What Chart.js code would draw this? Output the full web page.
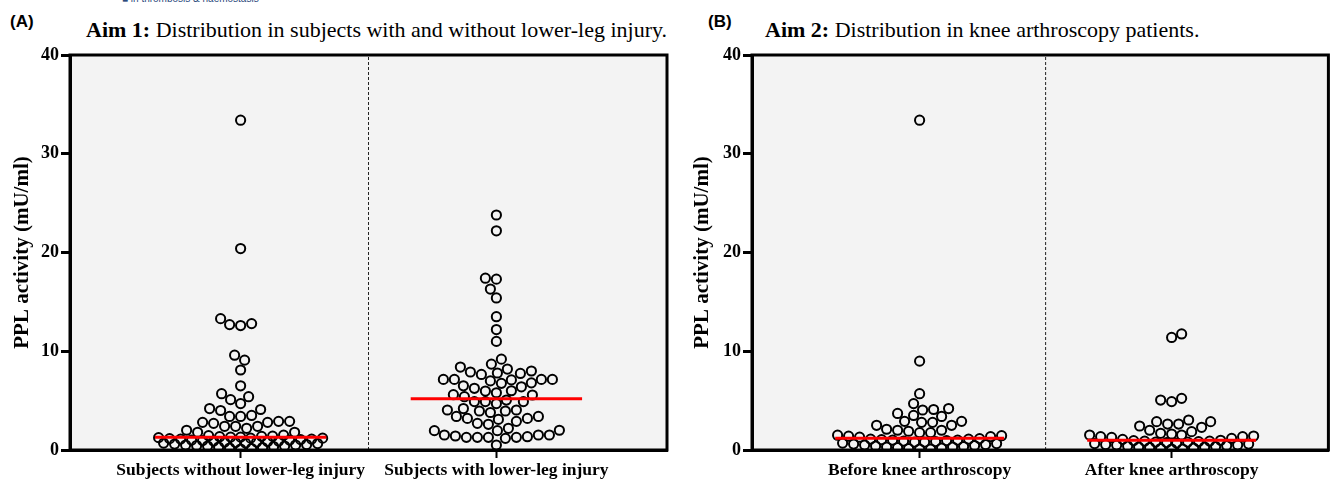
<!DOCTYPE html>
<html>
<head>
<meta charset="utf-8">
<script src="https://cdn.jsdelivr.net/npm/chart.js@4.4.1/dist/chart.umd.min.js"></script>
<style>
  body { margin: 0; background: #fff; width: 1335px; height: 483px; overflow: hidden; position: relative; }
  .box { position: absolute; top: 0; height: 483px; }
  .tag { position: absolute; font: bold 17px "Liberation Sans", Arial, sans-serif; line-height: 17px; color: #000; }
  .ttl { position: absolute; font: 22px "Liberation Serif", "Times New Roman", serif; line-height: 22px; color: #000; white-space: nowrap; }
  .ttl b { font-weight: bold; }
  .hdr { position: absolute; left: 122px; top: -7px; font: 10px "Liberation Sans", Arial, sans-serif; color: #2b4a7c; }
</style>
</head>
<body>
<div class="hdr">&#9632; in thrombosis &amp; haemostasis</div>
<div class="tag" style="left:10px; top:13px">(A)</div>
<div class="ttl" style="left:86px; top:19px"><b>Aim 1:</b> Distribution in subjects with and without lower-leg injury.</div>
<div class="tag" style="left:708px; top:13px">(B)</div>
<div class="ttl" style="left:765px; top:19px"><b>Aim 2:</b> Distribution in knee arthroscopy patients.</div>
<div class="box" style="left:0; width:680px"><canvas id="chartA"></canvas></div>
<div class="box" style="left:680px; width:655px"><canvas id="chartB"></canvas></div>
<script>
// categories
const categoriesA = ['Subjects without lower-leg injury', 'Subjects with lower-leg injury'];
const categoriesB = ['Before knee arthroscopy', 'After knee arthroscopy'];
const yTicks = [0, 10, 20, 30, 40];

// PPL activity (mU/ml)
const withoutInjury = [33.4, 20.4, 13.3, 12.8, 12.7, 12.6, 9.6, 9.1, 8.1, 6.5, 5.7, 5.4, 5.1, 4.7,
  4.2, 4.1, 4.0, 3.5, 3.4, 3.4, 2.9, 2.9, 2.8, 2.8, 2.7, 2.4, 2.4, 2.4, 2.2, 2.0, 1.8, 1.8, 1.5,
  1.45, 1.4, 1.38, 1.35, 1.3, 1.3, 1.25, 1.2, 1.2, 1.15, 1.1, 1.1, 1.05, 1.0, 1.0, 0.95, 0.9, 0.9,
  0.85, 0.8, 0.8, 0.75, 0.7, 0.7, 0.65, 0.6, 0.55, 0.5, 0.5, 0.45, 0.4, 0.4, 0.35, 0.3, 0.25, 0.2, 0.15, 0.1];
const withInjury = [23.8, 22.2, 17.4, 17.3, 16.3, 15.4, 13.5, 12.2, 11.0, 9.2, 8.7, 8.4, 8.2, 8.0,
  7.9, 7.8, 7.75, 7.65, 7.15, 7.15, 7.15, 7.15, 7.1, 7.0, 6.8, 6.75, 6.5, 6.4, 6.25, 6.0, 5.97, 5.8,
  5.6, 5.57, 5.4, 5.06, 4.9, 4.9, 4.9, 4.7, 4.2, 4.05, 4.05, 3.95, 3.95, 3.8, 3.4, 3.4, 3.2, 3.2, 3.1,
  2.9, 2.7, 2.6, 2.2, 2.0, 1.96, 1.96, 1.52, 1.52, 1.52, 1.42, 1.35, 1.28, 1.28, 1.28, 1.28, 1.18, 0.5];
const beforeArthroscopy = [33.4, 9.0, 5.7, 4.7, 4.2, 4.1, 4.05, 3.7, 3.5, 3.4, 2.9, 2.9, 2.8, 2.8,
  2.5, 2.5, 2.1, 2.0, 2.0, 1.9, 1.75, 1.75, 1.5, 1.45, 1.4, 1.35, 1.3,
  1.15, 1.1, 1.1, 1.05, 1.0, 1.0, 0.95, 0.9, 0.85, 0.8, 0.8, 0.7, 0.65, 0.6, 0.55, 0.5, 0.45, 0.4,
  0.35, 0.3, 0.3, 0.25, 0.2, 0.15, 0.1, 0.1];
const afterArthroscopy = [11.75, 11.4, 5.23, 5.06, 4.9, 3.04, 2.87, 2.87, 2.63, 2.63, 2.43, 2.3, 2.0,
  1.86, 1.69, 1.62, 1.52, 1.52, 1.42, 1.35, 1.35, 1.28, 1.18, 1.08,
  0.98, 0.95, 0.9, 0.9, 0.85, 0.8, 0.8, 0.75, 0.7, 0.65, 0.6, 0.55, 0.5, 0.5, 0.45, 0.4, 0.35, 0.3,
  0.3, 0.25, 0.2, 0.15, 0.1, 0.1];

// medians (red lines)
const mediansA = [1.3, 5.2];
const mediansB = [1.2, 1.0];

const serif = '"Liberation Serif", "Times New Roman", serif';

// grey plot area + black frame
const framePlugin = {
  id: 'frame',
  beforeDraw(chart) {
    const a = chart.chartArea, ctx = chart.ctx;
    ctx.save();
    ctx.fillStyle = '#f3f3f3';
    ctx.fillRect(a.left, a.top, a.width, a.height);
    ctx.restore();
  },
  afterDraw(chart) {
    const a = chart.chartArea, ctx = chart.ctx;
    ctx.save();
    ctx.strokeStyle = '#000';
    ctx.lineWidth = 3;
    ctx.strokeRect(a.left, a.top, a.width, a.height);
    ctx.restore();
  }
};

// spread points sideways so they don't pile up (like a scatter dot plot)
function swarm(chart, values, center) {
  const xs = chart.scales.x, ys = chart.scales.y;
  const unit = xs.getPixelForValue(1) - xs.getPixelForValue(0);
  const d = 10.5, maxHalf = 82;
  const placed = [];
  const out = new Array(values.length);
  const idx = values.map((v, i) => i).sort((a, b) => values[a] - values[b]);
  idx.forEach((i, n) => {
    const py = ys.getPixelForValue(values[i]);
    const near = placed.filter(p => Math.abs(p.y - py) < d);
    let best = 0, bestGap = -1, done = false;
    for (let k = 0; k <= maxHalf && !done; k++) {
      const cands = k === 0 ? [0] : (n % 2 ? [k, -k] : [-k, k]);
      for (const dx of cands) {
        let gap = Infinity;
        near.forEach(p => { gap = Math.min(gap, Math.hypot(p.x - dx, p.y - py)); });
        if (gap >= d) { best = dx; done = true; break; }
        if (gap > bestGap) { bestGap = gap; best = dx; }
      }
    }
    placed.push({ x: best, y: py });
    out[i] = { x: center + best / unit, y: values[i] };
  });
  return out;
}

function makeChart(id, cats, groups, medians, xRange, yWidth, padRight) {
  const pointSets = groups.map((vals, i) => ({
    type: 'scatter',
    data: vals.map(v => ({ x: i, y: v })),
    pointStyle: 'circle',
    pointRadius: 4.6,
    pointBorderWidth: 2,
    pointBorderColor: '#000',
    pointBackgroundColor: 'rgba(0,0,0,0)',
    order: 2
  }));
  const medianSets = medians.map((m, i) => ({
    type: 'line',
    data: [{ x: i - 0.335, y: m }, { x: i + 0.335, y: m }],
    borderColor: '#ff0000',
    borderWidth: 3,
    pointRadius: 0,
    order: 0
  }));
  const divider = {
    type: 'line',
    data: [{ x: 0.5, y: 0 }, { x: 0.5, y: 40 }],
    borderColor: '#222',
    borderWidth: 1,
    borderDash: [3, 2],
    pointRadius: 0,
    order: 3
  };
  const chart = new Chart(document.getElementById(id), {
    type: 'scatter',
    data: { datasets: [...pointSets, ...medianSets, divider] },
    options: {
      responsive: true,
      maintainAspectRatio: false,
      animation: false,
      layout: { padding: { top: 55, right: padRight, left: 0, bottom: 0 } },
      plugins: { legend: { display: false }, tooltip: { enabled: false } },
      scales: {
        x: {
          type: 'linear',
          min: xRange[0],
          max: xRange[1],
          afterBuildTicks: s => { s.ticks = [{ value: 0 }, { value: 1 }]; },
          afterFit: s => { s.height = 33; },
          ticks: {
            callback: v => cats[v],
            font: { family: serif, weight: 'bold', size: 17.5 },
            color: '#000',
            padding: 2,
            maxRotation: 0,
            autoSkip: false
          },
          grid: { drawOnChartArea: false, drawTicks: true, tickLength: 8, tickWidth: 2, tickColor: '#000' },
          border: { color: '#000', width: 3 }
        },
        y: {
          min: 0,
          max: 40,
          afterBuildTicks: s => { s.ticks = yTicks.map(v => ({ value: v })); },
          afterFit: s => { s.width = yWidth; },
          ticks: {
            font: { family: serif, weight: 'bold', size: 18 },
            color: '#000',
            padding: 2
          },
          grid: { drawOnChartArea: false, drawTicks: true, tickLength: 9, tickWidth: 3, tickColor: '#000' },
          border: { color: '#000', width: 3 },
          title: {
            display: true,
            text: 'PPL activity (mU/ml)',
            font: { family: serif, weight: 'bold', size: 21 },
            color: '#000',
            padding: { top: 10, bottom: 0 }
          }
        }
      }
    },
    plugins: [framePlugin]
  });
  groups.forEach((vals, i) => {
    chart.data.datasets[i].data = swarm(chart, vals, i);
  });
  chart.update('none');
  return chart;
}

makeChart('chartA', categoriesA, [withoutInjury, withInjury], mediansA, [-0.667, 1.667], 70, 13);
makeChart('chartB', categoriesB, [beforeArthroscopy, afterArthroscopy], mediansB, [-0.665, 1.622], 72, 2);
</script>
</body>
</html>
